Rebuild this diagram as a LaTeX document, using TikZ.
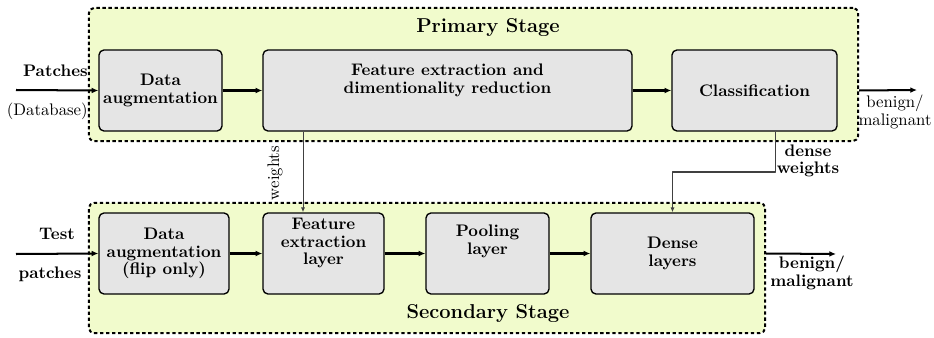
\documentclass[tikz,border=0pt]{standalone}
\usetikzlibrary{arrows.meta}

\definecolor{stagefill}{rgb}{0.945,0.985,0.80}
\definecolor{boxfill}{rgb}{0.90,0.90,0.90}

\begin{document}
\begin{tikzpicture}[x=0.021cm, y=-0.021cm, line join=round,
    stage/.style={draw=black, very thick, dash pattern=on 2pt off 1.6pt, fill=stagefill, rounded corners=3pt, minimum height=#1},
    box/.style={draw=black, thick, fill=boxfill, rounded corners=3pt, minimum height=1.701cm, align=center, inner sep=2pt,
        font=\bfseries\fontsize{10}{10.5}\selectfont},
    flow/.style={very thick, -{Latex[length=4pt, width=3.5pt]}},
    link/.style={black!75, semithick, -{Latex[length=3pt, width=2.5pt]}},
    txt/.style={align=center, inner sep=0pt, font=\fontsize{10}{10.5}\selectfont},
    btxt/.style={txt, font=\bfseries\fontsize{10}{10.5}\selectfont}]

    \useasboundingbox (0,0) rectangle (934,338);

    % stage frames
    \node[stage=2.793cm, minimum width=16.149cm] (pframe) at (473.5,74.5) {};
    \node[stage=2.73cm, minimum width=14.196cm] (sframe) at (427,268) {};
    \node[font=\bfseries\large] (ptitle) at (488,28) {Primary Stage};
    \node[font=\bfseries\large] (stitle) at (488,314) {Secondary Stage};

    % primary stage blocks
    \node[box, minimum width=2.583cm] (pda) at (160.5,90.5) {Data\\augmentation};
    \node[box, minimum width=7.749cm] (pfe) at (447.5,90.5) {};
    \node[btxt, anchor=north] (pfetxt) at ([yshift=-0.3cm]pfe.north) {Feature extraction and\\dimentionality reduction};
    \node[box, minimum width=3.465cm] (pcl) at (754.5,90.5) {Classification};

    % secondary stage blocks
    \node[box, minimum width=2.73cm] (sda) at (164,253.5) {Data\\augmentation\\(flip only)};
    \node[box, minimum width=2.541cm] (sfe) at (323.5,253.5) {Feature\\extraction\\layer\\[4pt]};
    \node[box, minimum width=2.583cm] (spl) at (487.5,253.5) {Pooling\\layer\\[6pt]};
    \node[box, minimum width=3.423cm] (sdl) at (672.5,253.5) {Dense\\layers};

    % inputs / outputs
    \coordinate (pin) at (16,90);
    \coordinate (pout) at (917,90);
    \coordinate (sin) at (16,254);
    \coordinate (sout) at (836,254);
    \node[btxt, anchor=east] (patches) at (88,71) {Patches};
    \node[txt, anchor=east] (database) at (88,111) {(Database)};
    \node[btxt] (test) at (57,234) {Test};
    \node[btxt] (tpatches) at (50,274) {patches};
    \node[txt] (pres) at (895,112) {benign/\\malignant};
    \node[btxt] (sres) at (812,273) {benign/\\malignant};

    \draw[flow] (pin) -- (pda.west);
    \draw[flow] (pda) -- (pfe);
    \draw[flow] (pfe) -- (pcl);
    \draw[flow] (pframe.east |- pcl) -- (pout);

    \draw[flow] (sin) -- (sda.west);
    \draw[flow] (sda) -- (sfe);
    \draw[flow] (sfe) -- (spl);
    \draw[flow] (spl) -- (sdl);
    \draw[flow] (sframe.east |- sdl) -- (sout);

    % weights transfer
    \coordinate (wx) at (303,0);
    \draw[link] (pfe.south -| wx) -- (sfe.north -| wx);
    \node[txt, rotate=90] (wlabel) at (275,173) {weights};

    \coordinate (dbend) at (775,172);
    \draw[link] (pcl.south -| dbend) -- (dbend) -| (sdl.north);
    \node[btxt] (dlabel) at (808,161) {dense\\weights};

\end{tikzpicture}
\end{document}
